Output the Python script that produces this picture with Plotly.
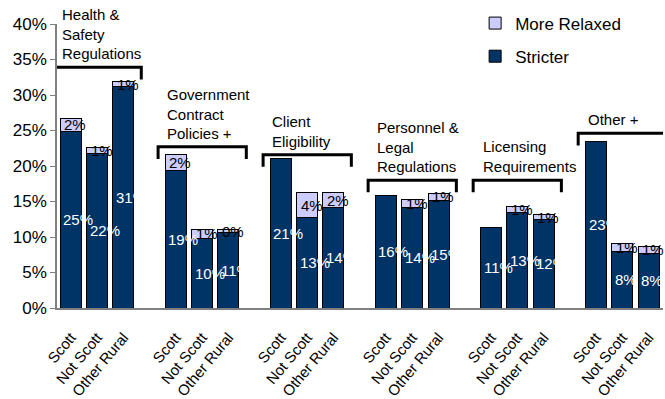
import plotly.graph_objects as go

# Survey results: share of respondents reporting regulation changes
groups = [
    "Health &<br>Safety<br>Regulations",
    "Government<br>Contract<br>Policies +",
    "Client<br>Eligibility",
    "Personnel &<br>Legal<br>Regulations",
    "Licensing<br>Requirements",
    "Other +",
]
areas = ["Scott", "Not Scott", "Other Rural"]

# values in percent, one row per group, columns follow `areas`
stricter = [
    [24.9, 21.8, 31.2],
    [19.3, 9.8, 10.6],
    [21.0, 12.7, 14.2],
    [15.9, 14.1, 15.2],
    [11.4, 13.4, 12.4],
    [23.4, 7.9, 7.7],
]
relaxed = [
    [1.8, 0.8, 0.7],
    [2.3, 1.3, 0.4],
    [None, 3.6, 2.0],
    [None, 1.2, 0.9],
    [None, 0.9, 0.8],
    [None, 1.2, 1.0],
]

# layout helpers: height of each group's bracket (in axis units)
bracket_y = [33.9, 22.7, 21.6, 18.0, 18.0, 24.6]

NAVY = "#003366"
LAVENDER = "#CCCCFF"
FONT = "Arial, Liberation Sans, sans-serif"
SLOTS_PER_GROUP = 4
BAR_W = 0.8

xs, s_vals, r_vals, labels = [], [], [], []
for g in range(len(groups)):
    for b, area in enumerate(areas):
        xs.append(g * SLOTS_PER_GROUP + b)
        s_vals.append(stricter[g][b])
        r_vals.append(relaxed[g][b])
        labels.append(area)

fig = go.Figure()
fig.add_trace(go.Bar(
    x=xs, y=s_vals, name="Stricter", legendgroup="s", legendrank=2,
    marker=dict(color=NAVY, line=dict(color="black", width=1)),
    width=BAR_W, hoverinfo="skip",
))
fig.add_trace(go.Bar(
    x=xs, y=[v if v is not None else 0 for v in r_vals],
    name="More Relaxed", legendgroup="r", legendrank=1,
    marker=dict(color=LAVENDER, line=dict(color="black", width=1)),
    width=BAR_W, hoverinfo="skip",
))

annotations = []
# value labels
for x, s, r in zip(xs, s_vals, r_vals):
    annotations.append(dict(
        x=x - BAR_W / 2, y=s / 2, xref="x", yref="y", text=f"{round(s)}%",
        showarrow=False, xanchor="left", yanchor="middle", xshift=1,
        font=dict(family=FONT, size=15, color="white"),
    ))
    if r is not None:
        annotations.append(dict(
            x=x - BAR_W / 2, y=s + r / 2, xref="x", yref="y", text=f"{round(r)}%",
            showarrow=False, xanchor="left", yanchor="middle", xshift=2,
            font=dict(family=FONT, size=15, color="black"),
        ))

# group brackets and their titles
shapes = []
TIP = 1.7
for g, title in enumerate(groups):
    x0 = g * SLOTS_PER_GROUP - 0.68
    x1 = g * SLOTS_PER_GROUP + len(areas) - 1 + 0.68
    yb = bracket_y[g]
    shapes.append(dict(
        type="path", xref="x", yref="y",
        path=f"M {x0},{yb - TIP} L {x0},{yb} L {x1},{yb} L {x1},{yb - TIP}",
        line=dict(color="black", width=3),
    ))
    annotations.append(dict(
        x=g * SLOTS_PER_GROUP - 0.4, y=yb, xref="x", yref="y", text=title,
        showarrow=False, xanchor="left", yanchor="bottom", align="left", yshift=3,
        font=dict(family=FONT, size=15, color="black"),
    ))

fig.update_layout(
    width=665, height=399,
    margin=dict(l=57, r=2, t=24, b=91),
    barmode="stack", bargap=0.2,
    plot_bgcolor="white", paper_bgcolor="white",
    font=dict(family=FONT, color="black"),
    showlegend=True,
    legend=dict(
        x=0.69, y=1.065, xanchor="left", yanchor="top",
        traceorder="grouped", tracegroupgap=8,
        font=dict(family=FONT, size=17, color="black"),
        bgcolor="rgba(0,0,0,0)",
    ),
    shapes=shapes,
    annotations=annotations,
)
fig.update_xaxes(
    range=[-0.53, 22.55], tickmode="array", tickvals=xs, ticktext=labels,
    tickangle=-50, tickfont=dict(family=FONT, size=15, color="black"),
    ticklabelstandoff=13, automargin=False,
    showline=True, linecolor="#808080", linewidth=1.5, ticks="",
    showgrid=False, zeroline=False,
)
fig.update_yaxes(
    range=[0, 40], tickmode="array", tickvals=list(range(0, 41, 5)),
    ticktext=[f"{v}%" for v in range(0, 41, 5)],
    tickfont=dict(family=FONT, size=17, color="black"),
    automargin=False,
    showline=True, linecolor="#808080", linewidth=1.5,
    ticks="outside", ticklen=5, tickcolor="#808080",
    showgrid=False, zeroline=False,
)

fig.write_html("out.html")
